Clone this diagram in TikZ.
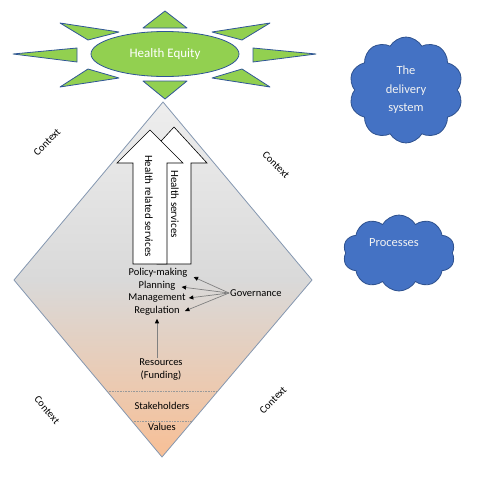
\documentclass[tikz,border=0pt]{standalone}
\usepackage{fontspec}
\setmainfont{Carlito}
\usetikzlibrary{shapes.symbols,shapes.geometric,arrows.meta}
\definecolor{sungreen}{HTML}{92D050}
\definecolor{sunedge}{HTML}{2F5597}
\definecolor{cloudblue}{HTML}{4472C4}
\definecolor{cloudedge}{HTML}{2F528F}
\definecolor{peach}{HTML}{F8BF95}
\definecolor{topgray}{HTML}{EEEEEE}
\definecolor{midgray}{HTML}{D9D9D9}
\definecolor{diamedge}{HTML}{8497B0}
\begin{document}
\begin{tikzpicture}[x=1pt,y=-1pt,
  ray/.style={fill=sungreen,draw=sunedge,line width=0.8pt,line join=round},
  bigarrow/.style={fill=white,draw=black,line width=0.6pt},
  lbl/.style={font=\fontsize{10.5}{12}\selectfont,inner sep=1pt},
  ctx/.style={font=\fontsize{10.5}{12}\selectfont,inner sep=1pt},
  govarrow/.style={draw=gray,line width=0.7pt,-{Triangle[length=4.5pt,width=4pt,color=black]}},
  cloudnode/.style={cloud,cloud puffs=10,cloud puff arc=120,aspect=1.1,fill=cloudblue,draw=cloudedge,line width=0.8pt,text=white!95!black,align=center},
  sepline/.style={draw=gray!80,line width=0.6pt,densely dotted}]
\useasboundingbox (0,0) rectangle (479,477);
% sun rays
\path[ray] (165,11) -- (187,28) -- (143,28) -- cycle;
\path[ray] (165,99) -- (187,81) -- (143,81) -- cycle;
\path[ray] (13,54) -- (77,48) -- (77,62) -- cycle;
\path[ray] (316,54) -- (253,48) -- (253,62) -- cycle;
\path[ray] (60,23) -- (119,32) -- (88,40) -- cycle;
\path[ray] (270,23) -- (212,32) -- (242,40) -- cycle;
\path[ray] (60,87) -- (119,78) -- (88,69) -- cycle;
\path[ray] (270,87) -- (212,78) -- (242,69) -- cycle;
\node[ellipse,fill=sungreen,draw=sunedge,line width=0.8pt,minimum width=148pt,minimum height=45pt,text=white,font=\fontsize{13}{14}\selectfont] (equity) at (165,54) {Health Equity};
% diamond with two-part gradient
\begin{scope}
  \clip (163,102) -- (312,280) -- (162,457) -- (14,280) -- cycle;
  \path[top color=topgray,bottom color=midgray] (10,100) rectangle (316,281);
  \path[top color=midgray,bottom color=peach] (10,280) rectangle (316,460);
\end{scope}
\draw[draw=diamedge,line width=0.8pt,line join=round] (163,102) -- (312,280) -- (162,457) -- (14,280) -- cycle;
\coordinate (s1l) at (107,391); \coordinate (s1r) at (218,391);
\coordinate (s2l) at (132,421); \coordinate (s2r) at (192,421);
\draw[sepline] (s1l) -- (s1r);
\draw[sepline] (s2l) -- (s2r);
% big arrows
\path[bigarrow] (174,127) -- (207,163) -- (191,163) -- (191,264) -- (157,264) -- (157,163) -- (141,163) -- cycle;
\path[bigarrow] (150,130) -- (183,163) -- (167,163) -- (167,264) -- (133,264) -- (133,163) -- (117,163) -- cycle;
\node[lbl,rotate=-90,font=\fontsize{11}{12}\selectfont] (hrs) at (149,206) {Health related services};
\node[lbl,rotate=-90,font=\fontsize{11}{12}\selectfont] (hs) at (175,204) {Health services};
% labels
\node[lbl] (pm) at (158,273) {Policy-making};
\node[lbl] (pl) at (157,286) {Planning};
\node[lbl] (mg) at (157,298) {Management};
\node[lbl] (rg) at (157,311) {Regulation};
\node[lbl,anchor=west] (gov) at (229,293) {Governance};
\node[lbl,align=center] (res) at (161,370) {Resources\\[1pt](Funding)};
\node[lbl] (stk) at (162,406) {Stakeholders};
\node[lbl] (val) at (162,427) {Values};
\draw[govarrow] (gov.west) -- ([xshift=5pt,yshift=-4pt]pm.east);
\draw[govarrow] (gov.west) -- ([xshift=5pt,yshift=-1pt]pl.east);
\draw[govarrow] (gov.west) -- ([xshift=2pt]mg.east);
\draw[govarrow] (gov.west) -- ([xshift=4pt]rg.east);
\coordinate (resup) at (rg.south |- res.north);
\draw[govarrow] (resup) -- ([yshift=-2pt]rg.south);
% context labels
\node[ctx,rotate=45] (c1) at (47,142) {Context};
\node[ctx,rotate=-45] (c2) at (276,165) {Context};
\node[ctx,rotate=-50] (c3) at (47,410) {Context};
\node[ctx,rotate=45] (c4) at (273,400) {Context};
% clouds
\node[cloudnode,minimum width=114pt,minimum height=106pt,font=\fontsize{12.5}{18.5}\selectfont] (deliv) at (406,90) {The\\delivery\\system};
\node[cloudnode,minimum width=112pt,minimum height=76pt] (proc) at (399,253) {};
\node[text=white!95!black,font=\fontsize{12.5}{14}\selectfont] (proctext) at ([xshift=-5pt,yshift=10pt]proc.center) {Processes};
\end{tikzpicture}
\end{document}
